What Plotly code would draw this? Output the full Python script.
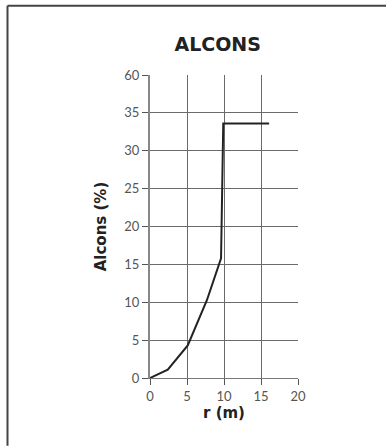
import plotly.graph_objects as go

r_m = [0, 2.4, 5.1, 7.7, 9.6, 9.9, 16.1]
alcons = [0, 1.1, 4.3, 10.3, 15.8, 33.6, 33.6]

x_ticks = [0, 5, 10, 15, 20]
y_tickvals = [0, 5, 10, 15, 20, 25, 30, 35, 40]
y_ticktext = ["0", "5", "10", "15", "20", "25", "30", "35", "60"]

FONT = "Lato, 'DejaVu Sans', sans-serif"
TFONT = "'DejaVu Sans', sans-serif"

fig = go.Figure()
fig.add_trace(go.Scatter(x=r_m, y=alcons, mode="lines",
                         line=dict(color="#222222", width=2), showlegend=False))

fig.update_layout(
    width=386, height=446,
    margin=dict(l=150, r=88, t=75, b=68),
    paper_bgcolor="white", plot_bgcolor="white",
    font=dict(family=FONT, color="#444444"),
    title=dict(text="<b>ALCONS</b>", x=0.564, xanchor="center", y=0.9, yanchor="middle",
               font=dict(size=19, color="#222222", family=TFONT)),
)
fig.update_xaxes(range=[0, 20], tickvals=x_ticks, showgrid=True, gridcolor="#6a6a6a", gridwidth=1,
                 ticks="outside", ticklen=6, tickcolor="#555555", zeroline=False,
                 showline=True, linecolor="#777777", linewidth=1,
                 tickfont=dict(size=13, color="#555555"),
                 title=dict(text="<b>r (m)</b>", standoff=4,
                            font=dict(size=15, color="#222222", family=TFONT)))
fig.update_yaxes(range=[0, 40], tickvals=y_tickvals, ticktext=y_ticktext, showgrid=True,
                 gridcolor="#6a6a6a", gridwidth=1, ticks="outside", ticklen=6, tickcolor="#555555",
                 zeroline=False, showline=True, linecolor="#888888", linewidth=2,
                 tickfont=dict(size=13, color="#555555"),
                 title=dict(text="<b>Alcons (%)</b>", standoff=14,
                            font=dict(size=15, color="#222222", family=TFONT)))

# decorative frame (top and left edges)
fig.add_shape(type="line", xref="paper", yref="paper", x0=(7.5-150)/148, x1=(386-150)/148,
              y0=(446-68-5)/303.6, y1=(446-68-5)/303.6, line=dict(color="#444444", width=2))
fig.add_shape(type="line", xref="paper", yref="paper", x0=(7.5-150)/148, x1=(7.5-150)/148,
              y0=(446-68-5)/303.6, y1=-68/303.6, line=dict(color="#444444", width=2))

fig.write_html("out.html")
